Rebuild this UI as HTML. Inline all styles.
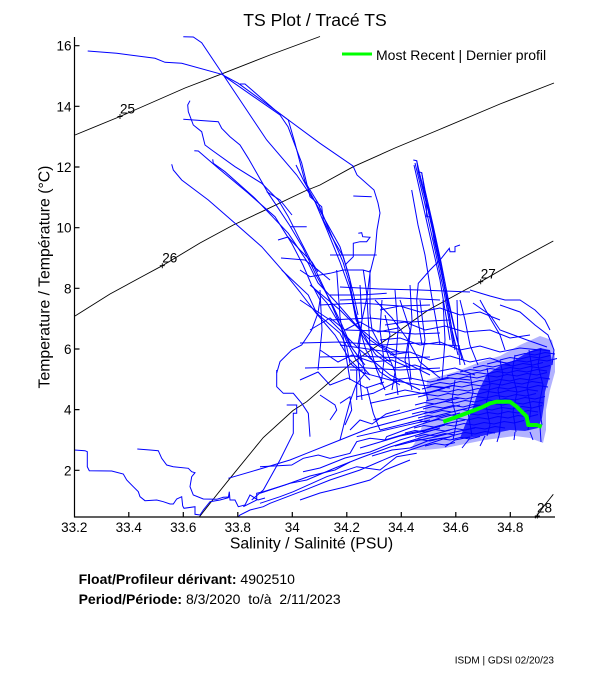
<!DOCTYPE html>
<html><head><meta charset="utf-8"><style>
html,body{margin:0;padding:0;background:#fff;}
svg{display:block;}
text{font-family:"Liberation Sans",Arial,sans-serif;fill:#000;}
</style></head><body>
<svg width="611" height="675" viewBox="0 0 611 675" xmlns="http://www.w3.org/2000/svg">
<rect width="611" height="675" fill="#fff"/>
<text x="315" y="26" font-size="17.6" text-anchor="middle">TS Plot / Tracé TS</text>

<!-- density contours -->
<g fill="none" stroke="#000" stroke-width="0.9">
<polyline points="75,135 120,116.5 185,88 223.3,73.3 270,55 320,36.5"/>
<polyline points="75,316 110,294 145,275 162.3,265.7 200,243 233.3,225 261.7,211.7 305,191 320,185 353.3,166.7 395,148 438.3,130 500,104 554,83"/>
<polyline points="199.3,517 215,497 230,478.3 263.3,437.5 293,410.5 306.7,401.7 350,364.3 396.7,332.5 428.3,310 465,290 480.7,281.7 520,259 553.3,241"/>
<polyline points="535,518.3 544,506 553.3,494.3"/>
<path d="M117.5,116.5h5M120,114v5M159.8,265.7h5M162.3,263.2v5M478.2,281.7h5M480.7,279.2v5M534.8,516h5M537.3,513.5v5"/>
</g>
<g font-size="13.5">
<text x="120" y="113.3">25</text>
<text x="162.3" y="262.3">26</text>
<text x="480.7" y="278.3">27</text>
<text x="537" y="512.5">28</text>
</g>

<polygon points="427,380 455,372 480,362 500,356 520,345 540,336 552,340 555,355 555,372 550,390 546,410 546,430 543,443 530,438 515,436 500,438 485,440 465,444 445,448 425,450 410,450 418,438 424,420 426,400" fill="#0000ff" fill-opacity="0.3"/>
<polygon points="487,374 500,366 515,360 528,352 540,348 550,350 552,362 549,378 545,392 544,405 542,418 538,428 525,431 510,430 495,433 482,436 470,438 460,438 465,425 472,410 478,392" fill="#0000ff" fill-opacity="0.8"/>

<!-- data -->
<g fill="none" stroke="#0000ff" stroke-width="1">
<!-- upper-left profiles -->
<polyline points="87.7,51 116.7,53.3 155,58.3 165,62.3 181.7,63.3 221.7,74.3 238.3,83.3 281.7,115 320,143.3 353,166 357,175 374,190 378,203 380,213 377,230 375,253 370,273 367,297 362,320 358,345 365,372"/>
<polyline points="183.3,36.7 193.3,37 201.7,42.7 223.3,75 266.7,140 296.7,175 315,201.7 327,230 340,262 350,290 357,320 366,350 380,372 400,385"/>
<polyline points="240,84 245,84 275,110 288.3,120 295,143.3 305,181.7 318,203 330,232 343,262 350,285 355,310 362,335 376,355 395,368"/>
<polyline points="225,76.7 280,115 288,126.7 301.7,163 310,196.7 321.7,206.7 323.3,220 331.7,236.7 343.3,256.7 350,280 351.7,297 356,320 370,346 390,362"/>
<polyline points="190,100.7 187.7,105 188.3,111.7 193.3,125 201.7,131.7 205,145 211.7,150 235,166.7 261.7,183.3 278.3,200 288.3,216.7 300,240 313,265 325,290 336,315 346,340 356,360 370,375"/>
<polyline points="183.3,119.3 218.3,121.7 221.7,128.3 230,136.7 240,145 248.3,158.3 268.3,193.3 275,203.3 290,226 303,248 316,275 330,300 342,325 352,348 365,365"/>
<polyline points="194.3,150.7 198.3,151 206.7,158.3 218.3,168.3 248.3,193.3 275,216.7 291.7,243.3 303,265 312,286 327,303 340,325 350,345 362,362"/>
<polyline points="212.7,159.3 213.3,163.3 225,171.7 255,198.3 288.3,233.3 308.3,263.3 318,283 336,302 356,325 380,345 400,352"/>
<polyline points="171.7,164.3 173.3,170 181.7,180 208.3,200 235,223.3 261.7,246.7 285,273.3 300,292 316,313 335,335 350,360 370,380"/>
<polyline points="296,165 303.3,180 323.3,216.7 340,246.7 348.3,273.3 353.3,293.3 358,315"/>
<polyline points="290,226.7 306.7,226.7"/>
<polyline points="278,240 288,237 300,250 312,262 318,272"/>
<polyline points="281,258 305,260 318,270 330,280"/>
<polyline points="266.7,191.7 280,200 292,215"/>
<polyline points="353.3,196 371.7,196.7"/>
<polyline points="358.3,233.3 361.7,232.7 362.7,236.7 370,237.3 366.7,241.7 360,241.7 353.3,243.3 353.3,256.7 345,265"/>
<polyline points="330,255 376.7,255"/>
<!-- steep bundle -->
<polyline points="413.3,160 416.7,160.7 420,175 430,215 440,260 447,300 452,330 458,355"/>
<polyline points="416.7,160.7 418.3,171.7 428,210 438,255 446,296 451,325 455,350"/>
<polyline points="418.3,171.7 421.7,172.7 425,190 433,225 441,262 448,298 455,330 462,360"/>
<polyline points="414,165 423,205 432,245 440,280 445,310 450,340"/>
<polyline points="411.7,190 418,225 425,255 431.7,296.7 436,320 440,345"/>
<polyline points="421.7,172.7 426,200 426.7,216.7 430.7,216.7 434,240 443,280 450,310 457,340 465,365"/>
<polyline points="415,163 424,200 435,250 444,292 449,320 453,345"/>
<polyline points="460,245 455,246.7 455,251.7 450,251.7 449.3,248.3 440,260 430,270 418.3,283.3 416.7,300 418,320 422,345"/>
<!-- horizontals -->
<polyline points="340,287 380,289 420,290 445,291 470,292"/>
<polyline points="330,295 360,295 386.7,293.3"/>
<polyline points="340,345 386.7,351.7 410,352"/>
<polyline points="340,300 400,298 440,300"/>
<polyline points="300,343 340,342 380,345 420,343 460,346"/>
<polyline points="305,368 350,367 400,370 440,368"/>
<polyline points="320,357 360,356 400,358 430,357"/>
<polyline points="330,320 370,318 410,322 450,320"/>
<polyline points="320,305 360,303 400,306 430,305"/>
<polyline points="345,330 380,331 415,334 440,333"/>
<!-- verticals -->
<polyline points="360,285 362,320 358,360 362,400"/>
<polyline points="443,300 445,340 442,380"/>
<polyline points="457,300 458,340 460,365"/>
<polyline points="320,290 322,330 318,370"/>
<polyline points="395,290 398,330 395,370 398,395"/>
<polyline points="410,285 412,320 408,350 411,380"/>
<polyline points="382,300 380,330 384,360 381,385"/>
<!-- middle web -->
<polyline points="300,300 330,320 360,350 390,375 420,390"/>
<polyline points="310,285 340,310 370,340 400,360 430,375"/>
<polyline points="281.7,270 308.3,295 316.7,313.3 340,333.3 346.7,346.7 350,363.3 358.3,370 365,373.3 390,380 420,385 450,388"/>
<polyline points="300,270 310,276.7 330,273.3 343.3,270 363,270 370,272"/>
<polyline points="336.7,270 340,316.7 346.7,360 350,380"/>
<polyline points="363.3,270 366.7,293.3 368.3,320 370,346.7 376.7,370 385,390"/>
<polyline points="370,270 370,313.3 372,330 380,345 395,355"/>
<polyline points="350,370 363.3,370"/>
<polyline points="356.7,396.7 373.3,393.3 386.7,386.7 400,380"/>
<polyline points="356.7,370 356.7,400"/>
<polyline points="370,403.3 400,396.7 430,392 455,385"/>
<polyline points="373.3,420 400,413.3 430,405 460,398"/>
<polyline points="356.7,436.7 400,426.7 430,420"/>
<polyline points="340,440 345,420 350,401.7 356,385 366,372"/>
<polyline points="380,310 400,306 420,312 440,308 460,315 480,312 500,320"/>
<polyline points="385,325 405,322 425,330 445,326 465,332 490,330 510,338 530,335"/>
<polyline points="380,340 400,338 420,345 440,342 460,350 480,346 500,352 520,348 540,350"/>
<polyline points="390,355 410,352 430,360 450,356 470,362 490,358 510,365"/>
<polyline points="395,368 415,365 435,372 455,368 475,375"/>
<polyline points="400,300 410,330 405,360 412,390"/>
<polyline points="420,300 425,340 420,370 428,400"/>
<polyline points="460,300 465,320 470,345 478,365"/>
<polyline points="480,300 490,318 500,335 505,350"/>
<polyline points="500,305 520,312 535,325 548,335 554,350 552,365"/>
<polyline points="470,290 490,296 505,300 520,300 535,310 545,320 550,330"/>
<polyline points="473,303 490,315 500,330 527,340 547,347"/>
<polyline points="385,315 390,335 386,350 395,372 392,390"/>
<polyline points="375,300 392,318 408,340 420,362 440,378"/>
<polyline points="310,330 330,318 345,330 360,322 378,332 398,328"/>
<polyline points="320,350 338,362 352,355 372,362 392,360 410,368"/>
<polyline points="300,380 318,372 330,385 348,378 366,388 384,382"/>
<polyline points="276.7,370 276.7,386.7 283.3,393.3 293.3,393.3 301.7,403.3 308.3,413.3 310,436.7"/>
<polyline points="313,286.7 320,300 318,313 311.7,330 301.7,345 291.7,350 280,361.7 276.7,373"/>
<polyline points="340,403.3 350,396.7 351.7,410 345,425"/>
<polyline points="366.7,386.7 373.3,413.3 380,430"/>
<polyline points="320,395 335,405 336.7,410 330,420"/>
<polyline points="390,380 410,378 430,382 450,378 470,380"/>
<polyline points="385,395 405,390 425,394 445,388"/>
<!-- lower band -->
<polyline points="228.3,478.3 256.7,470 290,460 306.7,453.3 340,440 370,428 400,420 430,412 460,405"/>
<polyline points="243.3,506.7 256.7,500 256.7,493.3 263.3,491.7 290,483.3 306.7,480 335,468 360,458 390,447 420,438 450,430"/>
<polyline points="238.3,516.7 240,515 250,510 263.3,506.7 270,503.3 306.7,489.3 330,480 360,470 395,455 425,445 455,435"/>
<polyline points="251.7,500 263.3,490 280,460 293.3,433.3 293.3,413.3 296.7,413.3 296.7,405 286.7,405"/>
<polyline points="260,466.7 291.7,465 303.3,458.3 318.3,455 330,458.3 350,453.3 356.7,441.7 370,438.3 385,440 386.7,436.7 410,428 440,418 460,413"/>
<polyline points="260,503.3 280,496.7 293.3,491.7 326.7,476.7 356.7,466.7 380,470 396.7,456.7 416.7,453.3"/>
<polyline points="303,471.7 320,468 345,458 370,452 400,440 440,428"/>
<polyline points="300,500 320,493 345,487 370,480 385,470 410,460"/>
<polyline points="260,493.3 285,485 310,476 335,470 350,462"/>
<polyline points="360,448 380,442 400,436 420,432 445,425"/>
<polyline points="380,430 400,425 420,420 440,415 460,410 480,405"/>
<polyline points="385,440 405,434 425,430 445,424 465,420"/>
<polyline points="395,446 415,441 435,437 455,432 475,428"/>
<polyline points="372,456 392,450 410,448 430,440 450,437"/>
<polyline points="350,430 360,420 372,424 386,414 400,410"/>
<!-- lower left -->
<polyline points="74.3,450 85,450.7 87.3,451.7 87.3,466.7 89.3,470.7 111.7,471 123.3,474 126.7,480 133.3,486.7 138.3,491.7 140,496.7 145,500.7 156.7,500 163.3,501.7 170,504 173.3,504 176.7,499 181.7,496.7 182.7,506 184,508.3 195,506.7 195,514.3 200,515 203.3,510 210,501.7 220,500 228.3,497.7 229.3,491.7 230,500 235,500 238.3,506.7 245,505 250,495 258,500 265,498"/>
<polyline points="137.3,449 150,450 158.3,450.7 161.7,458.3 166.7,465 173.3,466.7 188.3,468.3 191.7,471.7 195,472.7 191.7,476.7 190,486.7 193.3,495 203.3,499 216.7,499.3 223.3,497.3 230,497"/>
<!-- cluster hatching -->
<path d="M530,352 l10,-2.5 10,1.5
M515,356 l10,-2.5 10,1.5 10,-2.5 10,1.5
M500,360 l10,-2.5 10,1.5 10,-2.5 10,1.5 10,-2.5
M487,364 l10,-2.5 10,1.5 10,-2.5 10,1.5 10,-2.5 10,1.5 10,-2.5
M473,368 l10,-2.5 10,1.5 10,-2.5 10,1.5 10,-2.5 10,1.5 10,-2.5
M460,372 l10,-2.5 10,1.5 10,-2.5 10,1.5 10,-2.5 10,1.5 10,-2.5 10,1.5 10,-2.5
M447,376 l10,-2.5 10,1.5 10,-2.5 10,1.5 10,-2.5 10,1.5 10,-2.5 10,1.5 10,-2.5 10,1.5
M437,380 l10,-2.5 10,1.5 10,-2.5 10,1.5 10,-2.5 10,1.5 10,-2.5 10,1.5 10,-2.5 10,1.5 10,-2.5
M430,385 l10,-2.5 10,1.5 10,-2.5 10,1.5 10,-2.5 10,1.5 10,-2.5 10,1.5 10,-2.5 10,1.5 10,-2.5 10,1.5
M422,389 l10,-2.5 10,1.5 10,-2.5 10,1.5 10,-2.5 10,1.5 10,-2.5 10,1.5 10,-2.5 10,1.5 10,-2.5 10,1.5
M428,393 l10,-2.5 10,1.5 10,-2.5 10,1.5 10,-2.5 10,1.5 10,-2.5 10,1.5 10,-2.5 10,1.5 10,-2.5 10,1.5
M418,397 l10,-2.5 10,1.5 10,-2.5 10,1.5 10,-2.5 10,1.5 10,-2.5 10,1.5 10,-2.5 10,1.5 10,-2.5 10,1.5
M426,401 l10,-2.5 10,1.5 10,-2.5 10,1.5 10,-2.5 10,1.5 10,-2.5 10,1.5 10,-2.5 10,1.5 10,-2.5
M415,405 l10,-2.5 10,1.5 10,-2.5 10,1.5 10,-2.5 10,1.5 10,-2.5 10,1.5 10,-2.5 10,1.5 10,-2.5 10,1.5 10,-2.5
M423,409 l10,-2.5 10,1.5 10,-2.5 10,1.5 10,-2.5 10,1.5 10,-2.5 10,1.5 10,-2.5 10,1.5 10,-2.5 10,1.5
M412,414 l10,-2.5 10,1.5 10,-2.5 10,1.5 10,-2.5 10,1.5 10,-2.5 10,1.5 10,-2.5 10,1.5 10,-2.5 10,1.5 10,-2.5
M418,418 l10,-2.5 10,1.5 10,-2.5 10,1.5 10,-2.5 10,1.5 10,-2.5 10,1.5 10,-2.5 10,1.5 10,-2.5 10,1.5
M408,423 l10,-2.5 10,1.5 10,-2.5 10,1.5 10,-2.5 10,1.5 10,-2.5 10,1.5 10,-2.5 10,1.5 10,-2.5 10,1.5 10,-2.5
M414,428 l10,-2.5 10,1.5 10,-2.5 10,1.5 10,-2.5 10,1.5 10,-2.5 10,1.5 10,-2.5 10,1.5 10,-2.5
M405,433 l10,-2.5 10,1.5 10,-2.5 10,1.5 10,-2.5 10,1.5 10,-2.5 10,1.5 10,-2.5 10,1.5
M415,437 l10,-2.5 10,1.5 10,-2.5 10,1.5 10,-2.5 10,1.5 10,-2.5 10,1.5
M410,442 l10,-2.5 10,1.5 10,-2.5 10,1.5 10,-2.5 10,1.5 10,-2.5
M425,446 l10,-2.5 10,1.5 10,-2.5"/>
<polyline points="500,360 503,375 498,390 502,410 499,435"/>
<polyline points="515,355 512,372 517,392 513,412 516,432"/>
<polyline points="529,350 532,368 527,388 531,408 528,430"/>
<polyline points="541,348 538,365 543,385 539,405 542,425"/>
<polyline points="487,368 490,385 486,405 490,425 487,436"/>
<polyline points="470,374 473,392 468,412 472,436"/>
<polyline points="455,380 452,400 457,420 453,440"/>
<!-- cluster fringe -->
<polyline points="470,438 462,448"/>
<polyline points="485,436 480,446"/>
<polyline points="500,432 497,442"/>
<polyline points="515,432 514,440"/>
<polyline points="530,432 533,440"/>
<polyline points="540,426 541,442"/>
<polyline points="445,447 455,440 470,437"/>
</g>

<!-- most recent -->
<polyline points="443.3,421.7 461.7,415 475,410 483.3,406.7 490,403.3 496.7,401.7 510,401.7 516.7,406.7 521.7,411.7 526.7,416.7 528.3,425 536.7,425 541.7,426.7" fill="none" stroke="#00ff00" stroke-width="4" stroke-linejoin="round"/>

<!-- axes -->
<g stroke="#000" stroke-width="1.2" fill="none">
<line x1="74.5" y1="37" x2="74.5" y2="517.5"/>
<line x1="74" y1="517" x2="555" y2="517"/>
<path d="M128.8,517v-5M183.3,517v-5M237.8,517v-5M292.3,517v-5M346.8,517v-5M401.3,517v-5M455.8,517v-5M510.3,517v-5"/>
<path d="M74.5,470.3h5M74.5,409.6h5M74.5,349h5M74.5,288.3h5M74.5,227.7h5M74.5,167h5M74.5,106.3h5M74.5,45.7h5"/>
</g>
<g font-size="13.5" text-anchor="middle">
<text x="74.3" y="532">33.2</text>
<text x="128.8" y="532">33.4</text>
<text x="183.3" y="532">33.6</text>
<text x="237.8" y="532">33.8</text>
<text x="292.3" y="532">34</text>
<text x="346.8" y="532">34.2</text>
<text x="401.3" y="532">34.4</text>
<text x="455.8" y="532">34.6</text>
<text x="510.3" y="532">34.8</text>
</g>
<g font-size="13.5" text-anchor="end">
<text x="71.5" y="475.3">2</text>
<text x="71.5" y="414.6">4</text>
<text x="71.5" y="354">6</text>
<text x="71.5" y="293.3">8</text>
<text x="71.5" y="232.7">10</text>
<text x="71.5" y="172">12</text>
<text x="71.5" y="111.3">14</text>
<text x="71.5" y="50.7">16</text>
</g>
<text x="311.5" y="548.3" font-size="15.8" text-anchor="middle">Salinity / Salinité (PSU)</text>
<text transform="translate(49.5,277) rotate(-90)" font-size="15.8" text-anchor="middle">Temperature / Température (°C)</text>

<!-- legend -->
<line x1="342" y1="54" x2="372" y2="54" stroke="#00ff00" stroke-width="3"/>
<text x="376" y="60" font-size="14">Most Recent | Dernier profil</text>

<!-- footer -->
<text x="78.6" y="584" font-size="14" xml:space="preserve"><tspan font-weight="bold">Float/Profileur dérivant:</tspan> 4902510</text>
<text x="78.6" y="604" font-size="14" xml:space="preserve"><tspan font-weight="bold">Period/Période:</tspan> 8/3/2020  to/à  2/11/2023</text>
<text x="554" y="663.5" font-size="10" text-anchor="end">ISDM | GDSI 02/20/23</text>
</svg>
</body></html>
